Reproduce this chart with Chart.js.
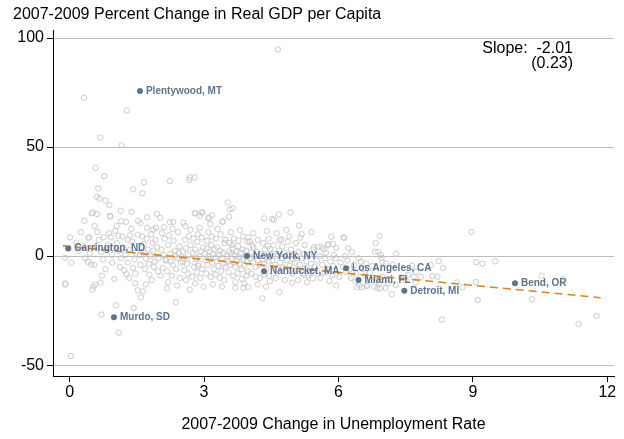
<!DOCTYPE html>
<html>
<head>
<meta charset="utf-8">
<script src="https://cdn.jsdelivr.net/npm/chart.js@4.4.1/dist/chart.umd.min.js"></script>
<style>
  html, body { margin: 0; padding: 0; background: #fff; }
</style>
</head>
<body>
<canvas id="gdp" width="624" height="439"></canvas>
<script>
const chartTitle = '2007-2009 Percent Change in Real GDP per Capita';
const xTitle = '2007-2009 Change in Unemployment Rate';
const xTicks = [0, 3, 6, 9, 12];
const yTicks = [-50, 0, 50, 100];
const slopeLines = ['Slope:  -2.01', '(0.23)'];

// highlighted places
const labeledNames = ['Plentywood, MT', 'Carrington, ND', 'Murdo, SD', 'New York, NY', 'Nantucket, MA',
  'Los Angeles, CA', 'Miami, FL', 'Detroit, MI', 'Bend, OR'];
const labeledX = [1.57, -0.03, 0.99, 3.96, 4.34, 6.17, 6.45, 7.47, 9.94];
const labeledY = [75.7, 3.5, -28.1, 0, -6.9, -5.6, -11, -15.9, -12.5];

// fitted line ends
const fitX = [-0.15, 11.85];
const fitY = [4.7, -19.1];

// every other area: [unemployment change, gdp change]
const counties = [
  // 0 - 0.5
  [-0.1,-0.8],[0.04,-3.1],[-0.09,-12.5],[0.01,8.6],[0.33,16.2],[0.42,8.4],[0.41,-2.6],[0.48,-3.8],[0.2,2.5],
  [0.3,4.5],[0.45,1.2],[0.15,6.2],[-0.1,-13.1],[0.03,-45.8],[0.32,72.6],[0.49,19.6],[0.44,8.6],[0.35,-1],[0.25,11],
  // 0.5 - 1
  [0.58,40.5],[0.77,36.7],[0.64,31],[0.61,27.2],[0.67,26.3],[0.8,25.4],[0.89,23.4],[0.69,54.4],[0.61,19.3],[0.91,18],
  [0.56,13.8],[0.52,20],[0.9,18.5],[0.92,8.6],[0.76,8.6],[0.65,7.3],[0.51,-15.4],[0.57,-13.1],[0.53,-14],[0.69,-12.2],
  [0.71,-26.8],[0.6,4.5],[0.7,2],[0.75,-1.5],[0.85,5],[0.95,0.5],[0.55,-4],[0.8,-6],[0.95,-3],[0.88,10.5],[0.62,11],
  [0.98,3.5],[0.72,-9],
  // 1 - 1.5
  [1.16,50.9],[1.28,66.8],[1.14,20.8],[1.38,20.3],[1.15,16],[1.26,15.7],[1.05,13.8],[1.02,11.6],[1.09,9.3],[1.35,9.5],
  [1.42,30.6],[1.1,-35.1],[1.04,-22.6],[1.43,-23.8],[1.27,-8.3],[1.46,-12.5],[1.52,-15.7],[1.05,6],[1.1,2.5],[1.15,-1],
  [1.2,4],[1.25,0.5],[1.3,-3],[1.35,3],[1.4,6.5],[1.45,-1.5],[1.48,1.5],[1.12,-5],[1.22,-6.5],[1.33,-10],[1.38,12.5],
  [1.18,9],[1.42,-5.5],[1.3,7.5],[1.47,-8],[1.0,-10.5],
  // 1.5 - 2
  [1.52,9.8],[1.53,16.2],[1.66,33.8],[1.62,28.8],[1.73,17.8],[1.95,19.4],[1.58,15.2],[1.73,13],[1.87,12.2],[1.93,13],
  [1.64,-16.2],[1.59,-18.9],[1.6,2],[1.65,5.5],[1.7,-1],[1.75,3],[1.8,0],[1.85,6],[1.9,-2.5],[1.95,4],[1.58,-4],
  [1.68,-6],[1.78,-8.5],[1.88,-5],[1.98,-1],[1.62,9],[1.72,8],[1.82,10],[1.92,7.5],[1.57,0.5],[1.67,1.5],[1.77,-3.5],
  [1.87,2.5],[1.97,-7],[1.83,-11],[1.7,-13],
  // 2 - 2.5
  [2.02,17.6],[2.11,13.2],[2.24,15.5],[2.31,15.7],[2.24,34.4],[2.17,-14.8],[2.37,-21.2],[2.05,3],[2.1,0.5],[2.15,-2],
  [2.2,5],[2.25,1],[2.3,-4],[2.35,2.5],[2.4,-1],[2.45,4.5],[2.48,-3],[2.08,-5.5],[2.18,-7],[2.28,-9],[2.38,-6],
  [2.46,-10],[2.12,8],[2.22,9.5],[2.32,7],[2.42,11],[2.06,10.5],[2.14,-1.5],[2.26,-2.5],[2.36,0],[2.44,1.5],[2.03,-9],
  [2.2,-12],[2.4,-13.5],[2.3,12.5],
  // 2.5 - 3
  [2.54,15.3],[2.58,13.8],[2.67,34.9],[2.69,36.1],[2.79,36.1],[2.79,19.7],[2.97,20],[2.91,18.5],[2.81,19.6],[2.94,19.9],
  [2.68,-15.4],[2.99,-14],[2.52,2],[2.55,-1],[2.6,3.5],[2.62,-3.5],[2.65,0.5],[2.7,5],[2.72,-2],[2.75,1.5],[2.78,-5],
  [2.8,3],[2.83,-1],[2.85,6.5],[2.88,-3.5],[2.9,0],[2.93,2],[2.96,-6],[2.98,4],[2.56,-6.5],[2.64,-8],[2.74,-9.5],
  [2.84,-7.5],[2.92,-10],[2.58,7.5],[2.66,9],[2.76,8],[2.86,10],[2.95,8.5],[2.7,12],[2.9,13],[2.6,-11],[2.8,-12.5],
  [2.53,-2.5],[2.87,-4.5],
  // 3 - 3.5
  [3.1,17.3],[3.14,14.7],[3.11,17.6],[3.42,15.9],[3.18,18.7],[3.41,15.7],[3.02,1],[3.04,-2],[3.06,3.5],[3.08,-4],
  [3.1,0],[3.12,2],[3.14,-1.5],[3.16,5],[3.18,-3],[3.2,1],[3.22,-6],[3.24,3],[3.26,-0.5],[3.28,-2.5],[3.3,4],
  [3.32,-4.5],[3.34,0.5],[3.36,2.5],[3.38,-7],[3.4,-1],[3.42,1.5],[3.44,-3.5],[3.46,6],[3.48,-5],[3.05,-8],[3.15,-9.5],
  [3.25,-8.5],[3.35,-10],[3.45,-11],[3.07,7],[3.17,9],[3.27,8],[3.37,10],[3.47,7.5],[3.1,11],[3.3,12.5],[3.2,-13],
  [3.4,-14],
  // 3.5 - 4
  [3.53,24.6],[3.64,21.9],[3.56,18],[3.58,21.4],[3.88,-14.6],[3.99,-14.3],[3.7,-14.5],[3.52,0],[3.54,-2.5],[3.56,2],
  [3.58,-4],[3.6,1],[3.62,-1.5],[3.64,3.5],[3.66,-3],[3.68,0.5],[3.7,-5],[3.72,2],[3.74,-2],[3.76,4.5],[3.78,-0.5],
  [3.8,-3.5],[3.82,1.5],[3.84,-6],[3.86,3],[3.88,-1],[3.9,-4],[3.92,0],[3.94,2.5],[3.96,-2.5],[3.98,-7],[3.55,-7.5],
  [3.65,-9],[3.75,-8],[3.85,-10.5],[3.95,-9],[3.57,6],[3.67,8],[3.77,7],[3.87,9],[3.97,6.5],[3.6,11],[3.8,12],
  [3.7,-12],[3.9,-12.5],[3.98,8.6],[3.62,5],
  // 4 - 4.5
  [4.02,6.6],[4.34,17.3],[4.43,4.6],[4.47,3.3],[4.3,-19.4],[4.47,-11.5],[4.03,-1],[4.06,1.5],[4.09,-3],[4.12,0],
  [4.15,-5],[4.18,2],[4.21,-2],[4.24,-4],[4.27,1],[4.3,-1.5],[4.33,-3.5],[4.36,3],[4.39,-6],[4.42,-0.5],[4.45,-2.5],
  [4.48,0.5],[4.05,-8],[4.15,-9.5],[4.25,-10],[4.35,-8.5],[4.45,-9],[4.08,5],[4.2,7.5],[4.32,6],[4.44,8],[4.1,10.5],
  [4.4,11.5],[4.2,-13],[4.38,-14],[4.1,4],
  // 4.5 - 5
  [4.52,17],[4.67,19.1],[4.56,16.7],[4.93,20],[4.69,7.3],[4.72,7.7],[4.87,6.6],[4.65,94.8],[4.68,-16.6],[4.96,-12.2],
  [4.52,-2],[4.55,1],[4.58,-4],[4.61,0],[4.64,-6],[4.67,2.5],[4.7,-3],[4.73,-1],[4.76,-5],[4.79,1.5],[4.82,-7],
  [4.85,-2],[4.88,0.5],[4.91,-4.5],[4.94,3],[4.97,-8],[4.6,-10],[4.8,-11],[4.55,5],[4.75,4.5],[4.9,9],[4.62,10.5],
  [4.84,12],[4.98,-1.5],
  // 5 - 5.5
  [5.18,10],[5.02,-3],[5.05,0],[5.08,-6],[5.11,2],[5.14,-4],[5.17,-1],[5.2,-8],[5.23,1],[5.26,-5.5],[5.29,-2.5],
  [5.32,-9],[5.35,0.5],[5.38,-3.5],[5.41,-7],[5.44,3],[5.47,-5],[5.1,-11],[5.3,-12],[5.24,-8.7],[5.36,-7.9],
  [5.43,-10.2],[5.05,6],[5.25,5],[5.45,4],[5.15,8.5],[5.4,11],[5.12,14],
  // 5.5 - 6
  [5.55,4.3],[5.67,3.1],[5.84,8.9],[5.95,3.8],[5.78,5.5],[5.76,5],[5.87,5.5],[5.62,4],[5.95,-13.5],[5.54,-7.9],
  [5.69,-7.6],[5.87,-8.7],[5.52,-2],[5.58,0],[5.64,-4],[5.7,-1],[5.76,-6],[5.82,-2.5],[5.88,-4.5],[5.94,-1],
  [5.6,-10],[5.8,-11.5],[5.72,1.5],[5.9,0.5],
  // 6 - 7
  [6.02,-9.5],[6.17,-7.2],[6.11,8.6],[6.13,8.4],[6.3,1.8],[6.42,-14.3],[6.05,-3],[6.1,-5],[6.2,-2],[6.25,-6],
  [6.35,-4],[6.4,-8],[6.45,-1],[6.15,0],[6.28,-10],[6.38,-11.5],[6.5,-2.6],[6.22,3.5],[6.52,-14.3],[6.63,-13.8],
  [6.87,-14.6],[6.93,-14.9],[6.62,-3.4],[6.82,2],[6.95,0.5],[6.92,9.2],[6.83,6],[6.89,2],[6.96,-0.8],[6.98,-2.8],
  [6.91,-12.5],[6.8,-14],[6.65,-13.3],[6.47,-13.3],[6.73,-11],[6.87,-10.2],[6.98,-9.5],[6.55,-6],[6.7,-7.5],
  [6.6,-9],[6.75,-4.5],
  // above 7
  [7.05,-14.6],[7.19,-17.5],[7.06,-3.4],[7.21,-4.1],[7.29,1.1],[7.1,-12.5],[7.28,-13.3],[7.5,-11],[7.64,-4.4],
  [7.73,-7.2],[7.84,-9.5],[7.68,-9.5],[7.72,-12.2],[7.55,-8.6],[7.4,-9.8],[8.06,-4.1],[8.24,-2.3],[8.33,-5.5],
  [8.21,-9.5],[8.1,-9.2],[8.31,-29.1],[8.77,-14.3],[8.64,-12.1],[8.97,11.1],[9.07,-2.8],[9.21,-3.4],[9.5,-2.4],
  [9.07,-11.9],[9.11,-20.2],[10.32,-19.8],[10.53,-9],[11.02,-10.6],[11.36,-31.1],[11.76,-27.4]
];

const family = '"Liberation Sans", Arial, sans-serif';
const placeColor = '#5b7493';

// light horizontal rules at the y ticks, drawn before the points
const rules = {
  id: 'rules',
  beforeDatasetsDraw(chart) {
    const { ctx, chartArea } = chart;
    const y = chart.scales.y;
    ctx.save();
    ctx.strokeStyle = '#bebebe';
    ctx.lineWidth = 1;
    yTicks.forEach(v => {
      const py = Math.round(y.getPixelForValue(v)) + 0.5;
      ctx.beginPath();
      ctx.moveTo(chartArea.left + 1, py);
      ctx.lineTo(chartArea.right, py);
      ctx.stroke();
    });
    ctx.restore();
  }
};

const annotate = {
  id: 'annotate',
  afterDatasetsDraw(chart) {
    const { ctx, chartArea } = chart;
    const x = chart.scales.x;
    const y = chart.scales.y;
    ctx.save();
    ctx.fillStyle = placeColor;
    ctx.font = 'bold 10px ' + family;
    ctx.textBaseline = 'middle';
    ctx.textAlign = 'left';
    labeledNames.forEach((name, i) => {
      ctx.fillText(name, x.getPixelForValue(labeledX[i]) + 6, y.getPixelForValue(labeledY[i]));
    });
    // slope box, top right
    ctx.fillStyle = '#000';
    ctx.font = '16px ' + family;
    ctx.textAlign = 'right';
    ctx.fillText(slopeLines[0], chartArea.right - 41, chartArea.top + 19);
    ctx.fillText(slopeLines[1], chartArea.right - 41, chartArea.top + 34);
    // title
    ctx.textAlign = 'left';
    ctx.fillText(chartTitle, 13, 15);
    ctx.restore();
  }
};

new Chart(document.getElementById('gdp'), {
  type: 'scatter',
  data: {
    datasets: [
      {
        data: labeledX.map((v, i) => ({ x: v, y: labeledY[i] })),
        pointRadius: 3,
        pointBackgroundColor: placeColor,
        pointBorderWidth: 0
      },
      {
        type: 'line',
        data: fitX.map((v, i) => ({ x: v, y: fitY[i] })),
        borderColor: '#e8820e',
        borderWidth: 1.6,
        borderDash: [8, 5],
        pointRadius: 0,
        fill: false
      },
      {
        data: counties.map(p => ({ x: p[0], y: p[1] })),
        pointRadius: 2.7,
        pointBackgroundColor: 'rgba(0,0,0,0)',
        pointBorderColor: '#c6c6c6',
        pointBorderWidth: 0.9
      }
    ]
  },
  options: {
    responsive: false,
    animation: false,
    layout: { padding: { top: 30, right: 10, left: 0, bottom: 0 } },
    plugins: { legend: { display: false }, tooltip: { enabled: false } },
    scales: {
      x: {
        type: 'linear',
        min: -0.37,
        max: 12.15,
        afterBuildTicks: s => { s.ticks = xTicks.map(v => ({ value: v })); },
        afterFit: s => { s.height = 63; },
        grid: { drawOnChartArea: false, color: '#000', tickLength: 6 },
        border: { color: '#000', width: 1 },
        ticks: { color: '#000', font: { family, size: 16 }, padding: 1, maxRotation: 0, autoSkip: false,
          callback: v => String(v) },
        title: { display: true, text: xTitle, color: '#000', font: { family, size: 16 }, padding: { bottom: 5 } }
      },
      y: {
        type: 'linear',
        min: -55,
        max: 103.7,
        afterBuildTicks: s => { s.ticks = yTicks.map(v => ({ value: v })); },
        afterFit: s => { s.width = 53; },
        grid: { drawOnChartArea: false, color: '#000', tickLength: 6 },
        border: { color: '#000', width: 1 },
        ticks: { color: '#000', font: { family, size: 16 }, padding: 3, autoSkip: false,
          callback: v => String(v) }
      }
    }
  },
  plugins: [rules, annotate]
});
</script>
</body>
</html>
